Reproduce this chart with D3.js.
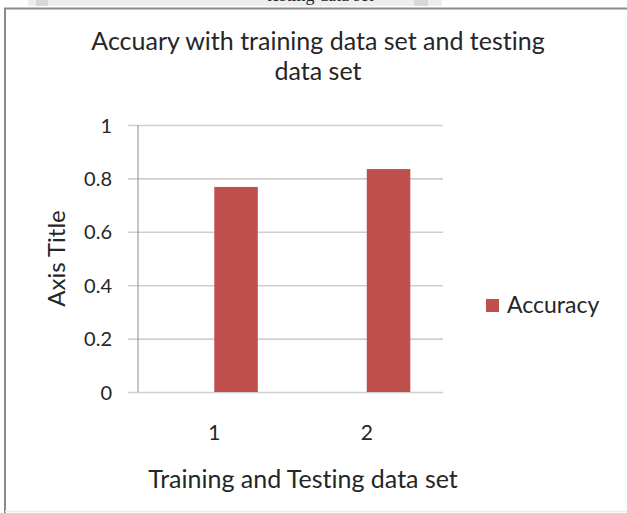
<!DOCTYPE html>
<html>
<head>
<meta charset="utf-8">
<script src="https://cdn.jsdelivr.net/npm/d3@7"></script>
<style>
  html, body { margin: 0; padding: 0; background: #fff; }
  svg text { font-family: Lato, "Open Sans", sans-serif; fill: #262626; font-variant-ligatures: none; font-feature-settings: "liga" 0, "clig" 0; }
</style>
</head>
<body>
<svg id="chart" width="627" height="513"></svg>
<script>
const categories = ["1", "2"];
const seriesName = "Accuracy";
const accuracy = [0.768, 0.835];
const yTicks = [0, 0.2, 0.4, 0.6, 0.8, 1];
const yTickLabels = ["0", "0.2", "0.4", "0.6", "0.8", "1"];
const titleLines = ["Accuary with training data set and testing", "data set"];
const xAxisTitle = "Training and Testing data set";
const yAxisTitle = "Axis Title";

const svg = d3.select("#chart");

// cropped strip of page above the chart
svg.append("rect").attr("x", 28).attr("y", 0).attr("width", 414).attr("height", 6).attr("fill", "#eeeeee");
svg.append("rect").attr("x", 36).attr("y", 0).attr("width", 12).attr("height", 6).attr("fill", "#d8d8d8");
svg.append("rect").attr("x", 414).attr("y", 0).attr("width", 14).attr("height", 6).attr("fill", "#d8d8d8");
svg.append("text").attr("x", 320).attr("y", 1).attr("text-anchor", "middle")
  .style("font-family", "'Liberation Serif', serif").style("font-size", "18px").text("testing data set");

// chart frame
svg.append("line").attr("x1", 4).attr("x2", 627).attr("y1", 8.5).attr("y2", 8.5).attr("stroke", "#8a8a8a").attr("stroke-width", 2);
svg.append("line").attr("x1", 5).attr("x2", 5).attr("y1", 8).attr("y2", 513).attr("stroke", "#8a8a8a").attr("stroke-width", 2);
svg.append("line").attr("x1", 5).attr("x2", 627).attr("y1", 511.5).attr("y2", 511.5).attr("stroke", "#ececec").attr("stroke-width", 1.5);

// title (two lines)
svg.append("g").selectAll("text").data(titleLines).join("text")
  .attr("text-anchor", "middle").style("font-size", "25px")
  .attr("x", 318).attr("y", (d, i) => 50 + i * 30).text(d => d);

// scales
const plotLeft = 138, plotRight = 443, plotTop = 125, plotBottom = 392;
const x = d3.scaleBand().domain(categories).range([plotLeft, plotRight]);
const y = d3.scaleLinear().domain([0, 1]).range([plotBottom, plotTop]);

// gridlines + y axis ticks/labels
const yAxis = d3.axisLeft(y).tickValues(yTicks).tickFormat((d, i) => yTickLabels[i])
  .tickSize(0).tickPadding(0);
const yg = svg.append("g").attr("transform", `translate(${plotLeft},0)`).call(yAxis);
yg.select(".domain").remove();
yg.selectAll(".tick text").attr("x", -26).attr("dy", "0.35em").style("font-size", "20px").attr("fill", "#262626");
yg.selectAll(".tick").append("line").attr("x1", -10).attr("x2", plotRight - plotLeft)
  .attr("stroke", "#cfcfcf").attr("stroke-width", 1.6);

// y axis line
svg.append("line").attr("x1", plotLeft).attr("x2", plotLeft).attr("y1", plotTop).attr("y2", plotBottom)
  .attr("stroke", "#8c8c8c").attr("stroke-width", 1);

// bars: Accuracy is the second series of a two-slot cluster (gap width 150%)
const barW = x.bandwidth() / 3.5;
svg.append("g").selectAll("rect").data(accuracy).join("rect")
  .attr("x", (d, i) => x(categories[i]) + x.bandwidth() / 2)
  .attr("y", d => y(d))
  .attr("width", barW)
  .attr("height", d => plotBottom - y(d))
  .attr("fill", "#c0504d");

// x axis
const xAxis = d3.axisBottom(x).tickSize(0).tickPadding(0);
const xg = svg.append("g").attr("transform", `translate(0,${plotBottom})`).call(xAxis);
xg.select(".domain").remove();
xg.selectAll(".tick text").attr("y", 48).attr("dy", 0).style("font-size", "21px").attr("fill", "#262626");

// axis titles
svg.append("text").attr("x", 303).attr("y", 488).attr("text-anchor", "middle").style("font-size", "25px").text(xAxisTitle);
svg.append("text").attr("transform", `translate(65,${(plotTop + plotBottom) / 2}) rotate(-90)`)
  .attr("text-anchor", "middle").style("font-size", "24px").text(yAxisTitle);

// legend
const lg = svg.append("g").attr("transform", "translate(486,299)");
lg.append("rect").attr("width", 13).attr("height", 13).attr("fill", "#c0504d");
lg.append("text").attr("x", 21).attr("y", 14).style("font-size", "23px").text(seriesName);
</script>
</body>
</html>
